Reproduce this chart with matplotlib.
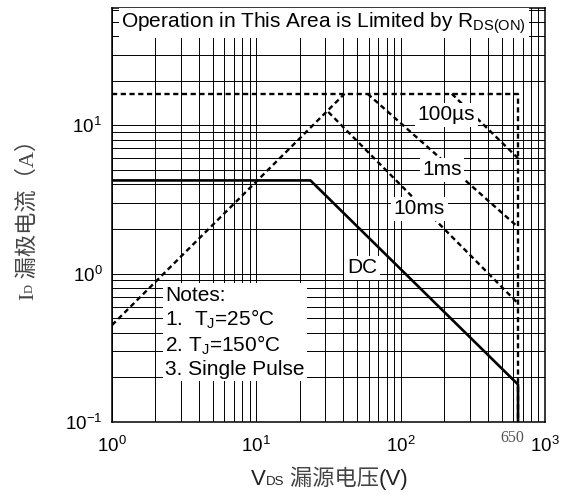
import matplotlib
matplotlib.use("Agg")
import matplotlib.pyplot as plt
from matplotlib.ticker import LogLocator, NullFormatter

plt.rcParams["font.family"] = ["Liberation Sans", "Noto Sans CJK SC"]
plt.rcParams["mathtext.fontset"] = "custom"
plt.rcParams["mathtext.rm"] = "Liberation Sans"
plt.rcParams["mathtext.it"] = "Liberation Sans:italic"

# safe operating area boundaries (V, A)
v_rds = [1.0, 40.8]
i_rds = [0.45, 16.3]
v_idm = [1.0, 650.0, 650.0]
i_idm = [16.3, 16.3, 0.1]
v_100us = [226.0, 650.0]
i_100us = [16.3, 6.0]
v_1ms = [59.0, 650.0]
i_1ms = [16.3, 2.06]
v_10ms = [31.5, 650.0]
i_10ms = [12.3, 0.63]
v_dc = [1.0, 23.7, 650.0, 650.0]
i_dc = [4.25, 4.25, 0.179, 0.1]

notes = ["Notes:", "1.  $\\mathregular{T_J}$=25°C", "2. $\\mathregular{T_J}$=150°C", "3. Single Pulse"]

fig = plt.figure(figsize=(5.62, 4.95), dpi=100)
ax = fig.add_axes([0.1993, 0.1475, 0.7705, 0.8364])

dash = (0, (2.2, 1.5))
ax.plot(v_rds, i_rds, color="black", lw=1.7, ls=dash)
ax.plot(v_idm, i_idm, color="black", lw=1.7, ls=dash)
ax.plot(v_100us, i_100us, color="black", lw=1.7, ls=dash)
ax.plot(v_1ms, i_1ms, color="black", lw=1.7, ls=dash)
ax.plot(v_10ms, i_10ms, color="black", lw=1.7, ls=dash)
ax.plot(v_dc, i_dc, color="black", lw=1.9, solid_capstyle="butt")

ax.set_xscale("log")
ax.set_yscale("log")
ax.set_xlim(1, 1000)
ax.set_ylim(0.1, 61.8)
ax.xaxis.set_minor_locator(LogLocator(base=10, subs=range(2, 10)))
ax.yaxis.set_minor_locator(LogLocator(base=10, subs=range(2, 10)))
ax.xaxis.set_minor_formatter(NullFormatter())
ax.yaxis.set_minor_formatter(NullFormatter())
ax.grid(which="both", color="black", lw=0.7)
ax.set_axisbelow(True)
ax.tick_params(which="both", length=0, labelsize=13.5)
ax.tick_params(axis="y", pad=7)
ax.tick_params(axis="x", pad=10)
for s in ax.spines.values():
    s.set_linewidth(1.1)

box = dict(boxstyle="square,pad=0.12", fc="white", ec="none")
ax.text(0.489, 0.964, "Operation in This Area is Limited by $\\mathregular{R_{DS(ON)}}$",
        transform=ax.transAxes, ha="center", va="center", fontsize=15, bbox=box)
ax.text(208, 11.8, "100µs", ha="center", va="center", fontsize=15, bbox=box)
ax.text(193, 5.03, "1ms", ha="center", va="center", fontsize=15, bbox=box)
ax.text(135, 2.73, "10ms", ha="center", va="center", fontsize=15, bbox=box)
ax.text(54, 1.10, "DC", ha="center", va="center", fontsize=15, bbox=box)
ax.text(0.123, 0.2165, "\n".join(notes), transform=ax.transAxes, ha="left", va="center",
        fontsize=15, linespacing=1.16, bbox=box)

# 650 V marker under the axis
ax.annotate("650", xy=(590, 0), xycoords=("data", "axes fraction"), xytext=(0, -11.5),
            textcoords="offset points", ha="center", va="center", fontsize=11.5,
            family="Liberation Serif", color="#555555")

# x label: V_DS 漏源电压(V), small "DS" sitting on the baseline
tv = fig.text(0.447, 0.01, "V", fontsize=16, va="bottom", color="#222222")
tds = ax.annotate("DS", xy=(1, 0), xycoords=tv, xytext=(0, 1.4), textcoords="offset points",
                  va="bottom", fontsize=9.5, color="#222222")
tcn = ax.annotate(" 漏源电压", xy=(1, 0), xycoords=(tds, tv), va="bottom", fontsize=16,
                  family="Noto Sans CJK SC", color="#444444")
ax.annotate("(V)", xy=(1, 0), xycoords=(tcn, tv), va="bottom", fontsize=16, color="#222222")

# y label: I_D 漏极电流（A）
ti = fig.text(0.068, 0.394, "I", rotation=90, ha="right", va="bottom", fontsize=16,
              family="Liberation Serif", color="#444444")
td = ax.annotate("D", xy=(1, 1), xycoords=ti, xytext=(-1.5, 0), textcoords="offset points",
                 rotation=90, ha="right", va="bottom", fontsize=9,
                 family="Liberation Serif", color="#444444")
ax.annotate(" 漏极电流（A）", xy=(1, 1), xycoords=(ti, td), rotation=90, ha="right",
            va="bottom", fontsize=16, family=["Liberation Serif", "Noto Sans CJK SC"],
            color="#444444")

fig.savefig("out.png", dpi=100)
